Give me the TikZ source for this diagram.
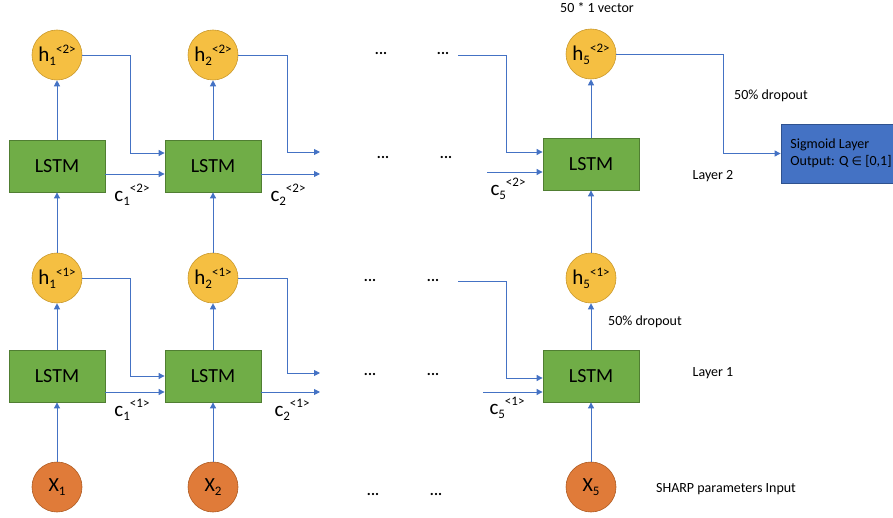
\documentclass[tikz,border=0pt]{standalone}
\usepackage{fontspec}
\setmainfont{Carlito}
\newfontfamily\symf{DejaVu Sans}
\usetikzlibrary{arrows.meta,calc}
\definecolor{lnblue}{HTML}{4472C4}
\definecolor{lstmfill}{HTML}{70AD47}
\definecolor{lstmdraw}{HTML}{507E32}
\definecolor{hfill}{HTML}{F5BF42}
\definecolor{hdraw}{HTML}{C9982B}
\definecolor{xfill}{HTML}{E07B39}
\definecolor{xdraw}{HTML}{AE5A21}
\definecolor{sigfill}{HTML}{4472C4}
\definecolor{sigdraw}{HTML}{2F528F}
\newcommand{\hlab}[3]{{\fontsize{21}{21}\selectfont #1}\raisebox{-4pt}{\fontsize{13}{13}\selectfont #2}\raisebox{8pt}{\fontsize{13}{13}\selectfont #3}}
\newcommand{\xlab}[2]{{\fontsize{20}{20}\selectfont #1}\raisebox{-4pt}{\fontsize{13}{13}\selectfont #2}}
\newcommand{\clab}[3]{{\fontsize{21}{21}\selectfont #1}\raisebox{-4pt}{\fontsize{13}{13}\selectfont #2}\raisebox{9pt}{\fontsize{13}{13}\selectfont #3}}
\begin{document}
\begin{tikzpicture}[x=1pt,y=-1pt,
  lstmbox/.style={rectangle, fill=lstmfill, draw=lstmdraw, line width=0.8pt, minimum width=96pt, minimum height=52pt, inner sep=0pt, font=\fontsize{20}{20}\selectfont},
  hnode/.style={circle, fill=hfill, draw=hdraw, line width=0.6pt, minimum size=50pt, inner sep=0pt},
  xnode/.style={circle, fill=xfill, draw=xdraw, line width=0.6pt, minimum size=50pt, inner sep=0pt},
  arr/.style={draw=lnblue, line width=0.9pt, -{Triangle[length=6pt,width=6pt]}},
  small/.style={font=\fontsize{14}{14}\selectfont, inner sep=0pt},
  dots/.style={font=\fontsize{15}{15}\selectfont\bfseries, inner sep=0pt}
]
\useasboundingbox (0,0) rectangle (893,518);

% LSTM boxes
\node[lstmbox] (L21) at (57,166) {LSTM};
\node[lstmbox] (L22) at (213,166) {LSTM};
\node[lstmbox] (L25) at (591,164) {LSTM};
\node[lstmbox] (L11) at (57,376) {LSTM};
\node[lstmbox] (L12) at (213,376) {LSTM};
\node[lstmbox] (L15) at (591,376) {LSTM};

% hidden states
\node[hnode] (h21) at (57,55) {\hlab{h}{1}{<2>}};
\node[hnode] (h22) at (213,55) {\hlab{h}{2}{<2>}};
\node[hnode] (h25) at (591,54) {\hlab{h}{5}{<2>}};
\node[hnode] (h11) at (57,278) {\hlab{h}{1}{<1>}};
\node[hnode] (h12) at (213,278) {\hlab{h}{2}{<1>}};
\node[hnode] (h15) at (591,278) {\hlab{h}{5}{<1>}};

% inputs
\node[xnode] (x1) at (57,487) {\xlab{X}{1}};
\node[xnode] (x2) at (213,487) {\xlab{X}{2}};
\node[xnode] (x5) at (591,487) {\xlab{X}{5}};

% sigmoid
\node[rectangle, fill=sigfill, draw=sigdraw, line width=0.8pt, minimum width=120pt, minimum height=59pt, inner sep=0pt, font=\fontsize{14}{17}\selectfont, align=left] (sig) at (841,153.5) {Sigmoid Layer\\Output: Q {\symf\fontsize{12}{12}\selectfont ∈} [0,1]};

% vertical arrows
\foreach \c in {1,2,5} {
  \draw[arr] (x\c.north) -- (L1\c.south);
  \draw[arr] (L1\c.north) -- (h1\c.south);
  \draw[arr] (h1\c.north) -- (L2\c.south);
  \draw[arr] (L2\c.north) -- (h2\c.south);
}

% coordinates
\coordinate (t21) at (130,153);
\coordinate (t22) at (287,152);
\coordinate (e22) at (320,152);
\coordinate (e22c) at (320,174);
\coordinate (s25) at (458,55);
\coordinate (t25) at (506,152);
\coordinate (s25c) at (487,172);
\coordinate (t11) at (130,376);
\coordinate (t12) at (287,373);
\coordinate (e12) at (320,373);
\coordinate (e12c) at (320,392);
\coordinate (s15) at (458,281);
\coordinate (t15) at (506,378);
\coordinate (s15c) at (483,392);
\coordinate (sb) at (723,153.5);

% layer 2 recurrent connections
\draw[arr] (h21.east) -| (t21) -- (t21 -| L22.west);
\draw[arr] ([yshift=-8pt]L21.east) -- ([yshift=-8pt]L22.west);
\draw[arr] (h22.east) -| (t22) -- (e22);
\draw[arr] ([yshift=-8pt]L22.east) -- (e22c);
\draw[arr] (s25) -| (t25) -- (t25 -| L25.west);
\draw[arr] (s25c) -- (s25c -| L25.west);

% layer 1 recurrent connections
\draw[arr] (h11.east) -| (t11) -- (t11 -| L12.west);
\draw[arr] ([yshift=-16pt]L11.east) -- ([yshift=-16pt]L12.west);
\draw[arr] (h12.east) -| (t12) -- (e12);
\draw[arr] ([yshift=-16pt]L12.east) -- (e12c);
\draw[arr] (s15) -| (t15) -- (t15 -| L15.west);
\draw[arr] (s15c) -- (s15c -| L15.west);

% to sigmoid
\draw[arr] (h25.east) -| (sb) -- (sig.west);

% c labels
\node[inner sep=0pt] (c12) at (132,195) {\clab{c}{1}{<2>}};
\node[inner sep=0pt] (c22) at (288,195) {\clab{c}{2}{<2>}};
\node[inner sep=0pt] (c52) at (508,189) {\clab{c}{5}{<2>}};
\node[inner sep=0pt] (c11) at (132,410) {\clab{c}{1}{<1>}};
\node[inner sep=0pt] (c21) at (292,410) {\clab{c}{2}{<1>}};
\node[inner sep=0pt] (c51) at (507,408) {\clab{c}{5}{<1>}};

% dots
\node[dots] (d1) at (381,54) {...};
\node[dots] (d2) at (443,54) {...};
\node[dots] (d3) at (383,157) {...};
\node[dots] (d4) at (446,157) {...};
\node[dots] (d5) at (370,280) {...};
\node[dots] (d6) at (433,280) {...};
\node[dots] (d7) at (370,374) {...};
\node[dots] (d8) at (433,374) {...};
\node[dots] (d9) at (373,494) {...};
\node[dots] (d10) at (436,494) {...};

% text labels
\node[small] (vec) at (597,8) {50 * 1 vector};
\node[small] (drop2) at (771,96) {50\% dropout};
\node[small] (drop1) at (645,322) {50\% dropout};
\node[small] (lay2) at (713,176) {Layer 2};
\node[small] (lay1) at (713,373) {Layer 1};
\node[small] (inp) at (726,489) {SHARP parameters Input};
\end{tikzpicture}
\end{document}
